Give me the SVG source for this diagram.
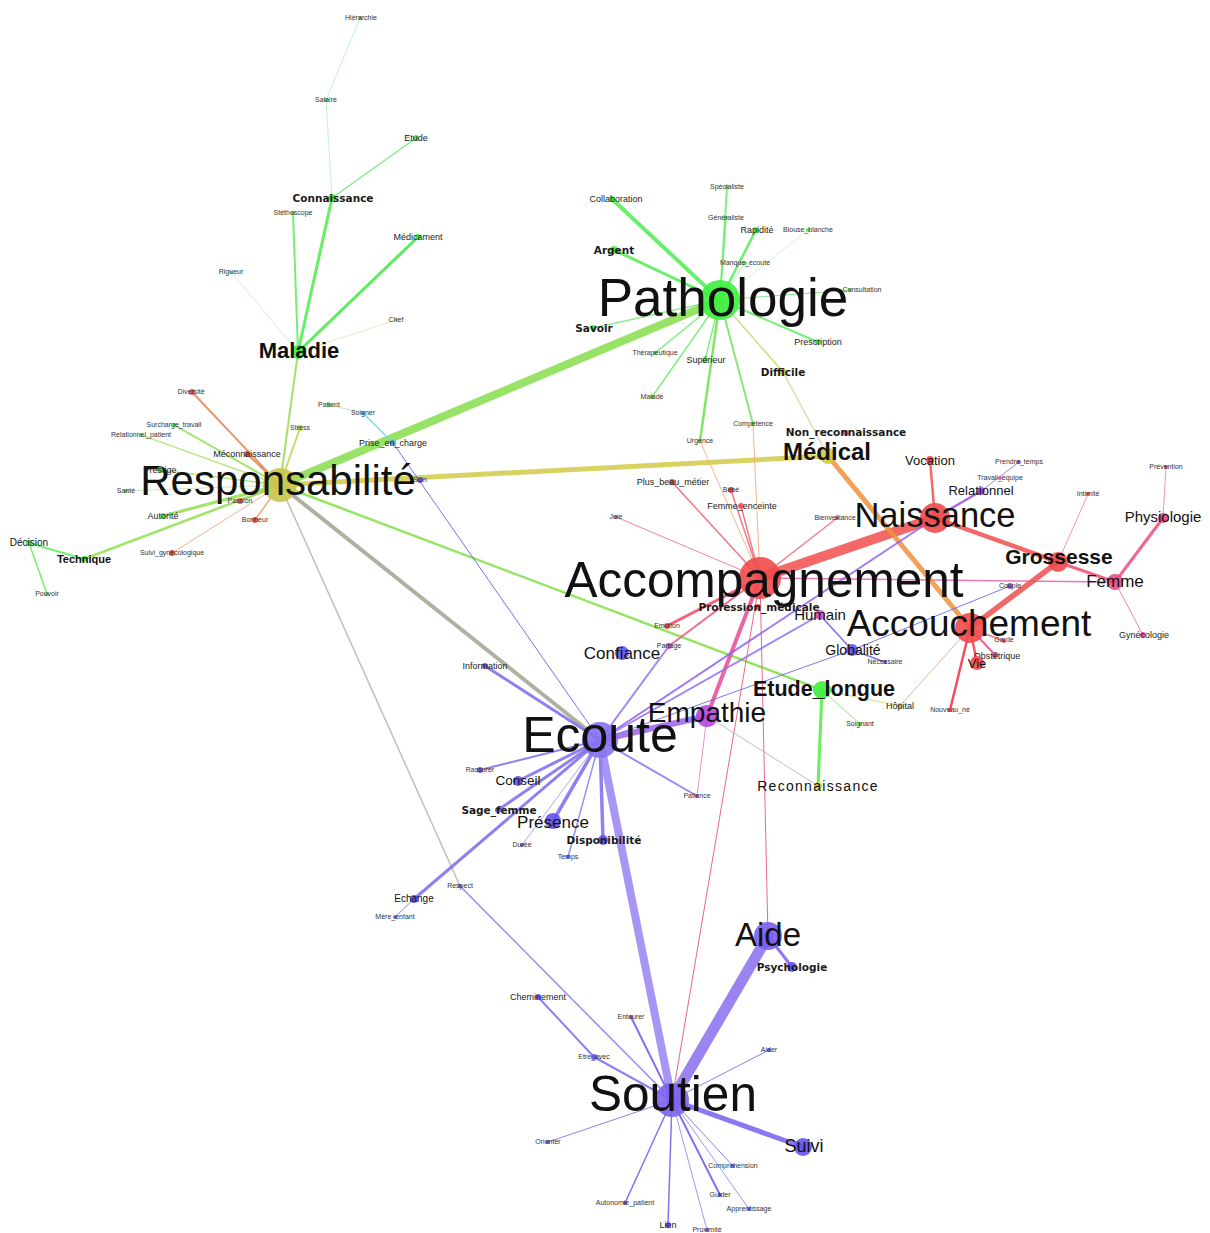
<svg xmlns="http://www.w3.org/2000/svg" width="1210" height="1233" viewBox="0 0 1210 1233">
<style>
.e{fill:none;stroke-linecap:round;stroke-opacity:.85}
text{font-family:"Liberation Sans",Arial,sans-serif;text-anchor:middle;fill:#111}
.s7{font-size:7px;fill:#333}
.s9{font-size:9px;fill:#222}
.b{font-family:"DejaVu Sans",Verdana,sans-serif;font-weight:bold;font-size:10.5px;fill:#1a1a1a}
.bb{font-weight:bold}
.g{fill:#3ef03e}.r{fill:#f24a4a}.p{fill:#6452f0}.pl{fill:#8a72f2}.m{fill:#d84cc0}.y{fill:#c9c64c}.pk{fill:#ea4a84}.c{fill:#3aa8d8}.yl{fill:#d0cc40}
circle{fill-opacity:.9}
</style>
<rect width="1210" height="1233" fill="#fff"/>
<g id="edges">
<line class="e" x1="360" y1="18" x2="326" y2="100" stroke="#b8f0c8" stroke-width="1"/>
<line class="e" x1="326" y1="100" x2="332" y2="198" stroke="#b8f0c8" stroke-width="1"/>
<line class="e" x1="416" y1="138" x2="332" y2="198" stroke="#6ee86e" stroke-width="1.5"/>
<line class="e" x1="332" y1="198" x2="298" y2="352" stroke="#4aec4a" stroke-width="3"/>
<line class="e" x1="293" y1="213" x2="298" y2="352" stroke="#5aec5a" stroke-width="2"/>
<line class="e" x1="418" y1="237" x2="298" y2="352" stroke="#3eea3e" stroke-width="3"/>
<line class="e" x1="231" y1="272" x2="298" y2="352" stroke="#c8e8f0" stroke-width="1"/>
<line class="e" x1="396" y1="320" x2="298" y2="352" stroke="#d4f0b0" stroke-width="1"/>
<line class="e" x1="298" y1="352" x2="280" y2="485" stroke="#9ad850" stroke-width="2"/>
<line class="e" x1="720" y1="300" x2="612" y2="199" stroke="#50ec50" stroke-width="4"/>
<line class="e" x1="720" y1="300" x2="614" y2="250" stroke="#50ec50" stroke-width="3"/>
<line class="e" x1="720" y1="300" x2="593" y2="328" stroke="#7aea7a" stroke-width="1.5"/>
<line class="e" x1="720" y1="300" x2="727" y2="187" stroke="#6aec6a" stroke-width="2"/>
<line class="e" x1="720" y1="300" x2="726" y2="218" stroke="#6aec6a" stroke-width="1.5"/>
<line class="e" x1="720" y1="300" x2="756" y2="230" stroke="#50ec50" stroke-width="2.5"/>
<line class="e" x1="720" y1="300" x2="808" y2="230" stroke="#c8f0c8" stroke-width="1"/>
<line class="e" x1="720" y1="300" x2="745" y2="263" stroke="#a0f0a0" stroke-width="1"/>
<line class="e" x1="720" y1="300" x2="850" y2="290" stroke="#78e078" stroke-width="1"/>
<line class="e" x1="720" y1="300" x2="818" y2="342" stroke="#5aec5a" stroke-width="2"/>
<line class="e" x1="720" y1="300" x2="655" y2="353" stroke="#6aec6a" stroke-width="1.5"/>
<line class="e" x1="720" y1="300" x2="705" y2="360" stroke="#6aec6a" stroke-width="1.5"/>
<line class="e" x1="720" y1="300" x2="652" y2="397" stroke="#6aec6a" stroke-width="1.5"/>
<line class="e" x1="720" y1="300" x2="700" y2="441" stroke="#6ae24a" stroke-width="2.5"/>
<line class="e" x1="720" y1="300" x2="753" y2="424" stroke="#78e060" stroke-width="2"/>
<line class="e" x1="720" y1="300" x2="783" y2="372" stroke="#c4d870" stroke-width="1.5"/>
<line class="e" x1="783" y1="372" x2="828" y2="456" stroke="#d8d4a0" stroke-width="1.5"/>
<line class="e" x1="720" y1="300" x2="280" y2="485" stroke="#86de4c" stroke-width="8"/>
<line class="e" x1="280" y1="485" x2="828" y2="456" stroke="#d2ca48" stroke-width="5"/>
<line class="e" x1="280" y1="485" x2="192" y2="392" stroke="#e08450" stroke-width="2"/>
<line class="e" x1="280" y1="485" x2="300" y2="428" stroke="#c8d050" stroke-width="2"/>
<line class="e" x1="280" y1="485" x2="174" y2="425" stroke="#8ee04e" stroke-width="2"/>
<line class="e" x1="280" y1="485" x2="141" y2="435" stroke="#b4e47c" stroke-width="1.5"/>
<line class="e" x1="280" y1="485" x2="247" y2="454" stroke="#e4884e" stroke-width="2"/>
<line class="e" x1="280" y1="485" x2="160" y2="470" stroke="#a4e060" stroke-width="1.5"/>
<line class="e" x1="280" y1="485" x2="126" y2="491" stroke="#c8e4b0" stroke-width="1"/>
<line class="e" x1="280" y1="485" x2="240" y2="501" stroke="#f09060" stroke-width="1.5"/>
<line class="e" x1="280" y1="485" x2="163" y2="516" stroke="#8ee04e" stroke-width="3"/>
<line class="e" x1="280" y1="485" x2="255" y2="520" stroke="#f09a60" stroke-width="1.5"/>
<line class="e" x1="280" y1="485" x2="172" y2="553" stroke="#f0a878" stroke-width="1"/>
<line class="e" x1="280" y1="485" x2="84" y2="559" stroke="#8ee04e" stroke-width="2.5"/>
<line class="e" x1="280" y1="485" x2="822" y2="690" stroke="#82e046" stroke-width="2.5"/>
<line class="e" x1="280" y1="485" x2="600" y2="740" stroke="#a2a290" stroke-width="4"/>
<line class="e" x1="280" y1="485" x2="460" y2="886" stroke="#b4b4a8" stroke-width="1.5"/>
<line class="e" x1="29" y1="543" x2="84" y2="559" stroke="#5aec5a" stroke-width="2"/>
<line class="e" x1="29" y1="543" x2="47" y2="594" stroke="#5aec5a" stroke-width="1.5"/>
<line class="e" x1="329" y1="405" x2="363" y2="413" stroke="#b0e8b0" stroke-width="1"/>
<line class="e" x1="363" y1="413" x2="393" y2="443" stroke="#70d0d8" stroke-width="1.5"/>
<line class="e" x1="393" y1="443" x2="600" y2="740" stroke="#5a5ae8" stroke-width="1"/>
<line class="e" x1="760" y1="578" x2="935" y2="518" stroke="#f24e4e" stroke-width="10"/>
<line class="e" x1="760" y1="578" x2="672" y2="482" stroke="#f06070" stroke-width="1.5"/>
<line class="e" x1="760" y1="578" x2="731" y2="490" stroke="#f06070" stroke-width="1.5"/>
<line class="e" x1="760" y1="578" x2="741" y2="506" stroke="#f06070" stroke-width="1.5"/>
<line class="e" x1="760" y1="578" x2="616" y2="517" stroke="#f07080" stroke-width="1"/>
<line class="e" x1="760" y1="578" x2="837" y2="518" stroke="#f07080" stroke-width="1.5"/>
<line class="e" x1="760" y1="578" x2="700" y2="441" stroke="#f0a878" stroke-width="1"/>
<line class="e" x1="760" y1="578" x2="753" y2="424" stroke="#f0a878" stroke-width="1"/>
<line class="e" x1="760" y1="578" x2="667" y2="626" stroke="#f04a5e" stroke-width="3"/>
<line class="e" x1="760" y1="578" x2="669" y2="646" stroke="#f05078" stroke-width="2"/>
<line class="e" x1="760" y1="578" x2="707" y2="716" stroke="#e84a94" stroke-width="4"/>
<line class="e" x1="760" y1="578" x2="768" y2="936" stroke="#e05080" stroke-width="1"/>
<line class="e" x1="760" y1="578" x2="672" y2="1100" stroke="#e05070" stroke-width="1"/>
<line class="e" x1="760" y1="578" x2="1115" y2="582" stroke="#e860b0" stroke-width="1.5"/>
<line class="e" x1="828" y1="456" x2="970" y2="628" stroke="#f0903e" stroke-width="5"/>
<line class="e" x1="935" y1="518" x2="930" y2="460" stroke="#f04e4e" stroke-width="2.5"/>
<line class="e" x1="935" y1="518" x2="981" y2="491" stroke="#a050e0" stroke-width="2.5"/>
<line class="e" x1="981" y1="491" x2="1019" y2="462" stroke="#9070e0" stroke-width="1"/>
<line class="e" x1="935" y1="518" x2="1058" y2="562" stroke="#f04e4e" stroke-width="4.5"/>
<line class="e" x1="935" y1="518" x2="600" y2="740" stroke="#9060f0" stroke-width="2"/>
<line class="e" x1="1058" y1="562" x2="1115" y2="582" stroke="#f04a70" stroke-width="3"/>
<line class="e" x1="1058" y1="562" x2="970" y2="628" stroke="#f04e4e" stroke-width="5.5"/>
<line class="e" x1="1058" y1="562" x2="1088" y2="494" stroke="#f080b0" stroke-width="1"/>
<line class="e" x1="1115" y1="582" x2="1163" y2="518" stroke="#f04a80" stroke-width="3"/>
<line class="e" x1="1163" y1="518" x2="1166" y2="467" stroke="#f080b0" stroke-width="1"/>
<line class="e" x1="1115" y1="582" x2="1143" y2="635" stroke="#f070a0" stroke-width="1"/>
<line class="e" x1="1010" y1="586" x2="852" y2="650" stroke="#6060f0" stroke-width="1"/>
<line class="e" x1="970" y1="628" x2="1004" y2="641" stroke="#f06070" stroke-width="1.5"/>
<line class="e" x1="970" y1="628" x2="995" y2="655" stroke="#e05080" stroke-width="2"/>
<line class="e" x1="970" y1="628" x2="977" y2="663" stroke="#f04050" stroke-width="2.5"/>
<line class="e" x1="970" y1="628" x2="950" y2="710" stroke="#f03040" stroke-width="2.5"/>
<line class="e" x1="970" y1="628" x2="900" y2="706" stroke="#d4b488" stroke-width="1"/>
<line class="e" x1="820" y1="615" x2="852" y2="650" stroke="#7050e0" stroke-width="1.5"/>
<line class="e" x1="820" y1="615" x2="600" y2="740" stroke="#9070f0" stroke-width="2"/>
<line class="e" x1="852" y1="650" x2="885" y2="662" stroke="#6060f0" stroke-width="1.5"/>
<line class="e" x1="852" y1="650" x2="600" y2="740" stroke="#6060f0" stroke-width="1"/>
<line class="e" x1="822" y1="690" x2="818" y2="786" stroke="#4eec3e" stroke-width="3"/>
<line class="e" x1="822" y1="690" x2="860" y2="724" stroke="#70ee70" stroke-width="1"/>
<line class="e" x1="822" y1="690" x2="900" y2="706" stroke="#d4d470" stroke-width="1"/>
<line class="e" x1="707" y1="716" x2="818" y2="786" stroke="#b4b4a8" stroke-width="1"/>
<line class="e" x1="707" y1="716" x2="697" y2="796" stroke="#e080c0" stroke-width="1"/>
<line class="e" x1="600" y1="740" x2="707" y2="716" stroke="#9a62f0" stroke-width="6"/>
<line class="e" x1="600" y1="740" x2="669" y2="646" stroke="#9070f0" stroke-width="2"/>
<line class="e" x1="600" y1="740" x2="485" y2="666" stroke="#7a6af0" stroke-width="3"/>
<line class="e" x1="600" y1="740" x2="480" y2="770" stroke="#7a6af0" stroke-width="2"/>
<line class="e" x1="600" y1="740" x2="518" y2="781" stroke="#7a6af0" stroke-width="3"/>
<line class="e" x1="600" y1="740" x2="498" y2="810" stroke="#7a6af0" stroke-width="3"/>
<line class="e" x1="600" y1="740" x2="553" y2="821" stroke="#7a6af0" stroke-width="3.5"/>
<line class="e" x1="600" y1="740" x2="603" y2="840" stroke="#7a6af0" stroke-width="3.5"/>
<line class="e" x1="600" y1="740" x2="522" y2="845" stroke="#9a9af0" stroke-width="1"/>
<line class="e" x1="600" y1="740" x2="568" y2="857" stroke="#8080f0" stroke-width="1.5"/>
<line class="e" x1="600" y1="740" x2="414" y2="899" stroke="#7a6af0" stroke-width="3"/>
<line class="e" x1="414" y1="899" x2="395" y2="917" stroke="#7070f0" stroke-width="1"/>
<line class="e" x1="600" y1="740" x2="697" y2="796" stroke="#9070f0" stroke-width="2"/>
<line class="e" x1="600" y1="740" x2="672" y2="1100" stroke="#9a82f2" stroke-width="8"/>
<line class="e" x1="768" y1="936" x2="672" y2="1100" stroke="#8a6ef0" stroke-width="11"/>
<line class="e" x1="768" y1="936" x2="792" y2="967" stroke="#7a60f0" stroke-width="3"/>
<line class="e" x1="460" y1="886" x2="672" y2="1100" stroke="#7a7af0" stroke-width="1.5"/>
<line class="e" x1="538" y1="997" x2="594" y2="1057" stroke="#7a6af0" stroke-width="2"/>
<line class="e" x1="594" y1="1057" x2="672" y2="1100" stroke="#7a6af0" stroke-width="2"/>
<line class="e" x1="631" y1="1017" x2="672" y2="1100" stroke="#6a5af0" stroke-width="2"/>
<line class="e" x1="769" y1="1050" x2="672" y2="1100" stroke="#7a6af0" stroke-width="1"/>
<line class="e" x1="548" y1="1142" x2="672" y2="1100" stroke="#7a6af0" stroke-width="1"/>
<line class="e" x1="803" y1="1147" x2="672" y2="1100" stroke="#7a60f0" stroke-width="5"/>
<line class="e" x1="733" y1="1166" x2="672" y2="1100" stroke="#7a6af0" stroke-width="1"/>
<line class="e" x1="720" y1="1195" x2="672" y2="1100" stroke="#6a5af0" stroke-width="2"/>
<line class="e" x1="749" y1="1209" x2="672" y2="1100" stroke="#8a8af0" stroke-width="1"/>
<line class="e" x1="625" y1="1203" x2="672" y2="1100" stroke="#6a5af0" stroke-width="1.5"/>
<line class="e" x1="668" y1="1225" x2="672" y2="1100" stroke="#6a5af0" stroke-width="1.5"/>
<line class="e" x1="707" y1="1230" x2="672" y2="1100" stroke="#8a8af0" stroke-width="1"/>
</g>
<g id="nodes">
<g id="n-hierarchie"><circle class="g" cx="360" cy="18" r="2"/><text class="s7" x="361" y="20">Hiérarchie</text></g>
<g id="n-salaire"><circle class="g" cx="326" cy="100" r="2"/><text class="s7" x="326" y="102">Salaire</text></g>
<g id="n-etude"><circle class="g" cx="416" cy="138" r="3"/><text class="s9" x="416" y="141">Etude</text></g>
<g id="n-connaissance"><circle class="g" cx="332" cy="198" r="4"/><text class="b" x="333" y="202">Connaissance</text></g>
<g id="n-stethoscope"><circle class="g" cx="293" cy="213" r="2"/><text class="s7" x="293" y="215">Stéthoscope</text></g>
<g id="n-medicament"><circle class="g" cx="418" cy="237" r="3"/><text class="s9" x="418" y="240">Médicament</text></g>
<g id="n-rigueur"><circle class="g" cx="231" cy="272" r="1.5"/><text class="s7" x="231" y="274">Rigueur</text></g>
<g id="n-chef"><circle class="g" cx="396" cy="320" r="1.5"/><text class="s7" x="396" y="322">Chef</text></g>
<g id="n-maladie"><circle class="g" cx="298" cy="352" r="7"/><text class="bb" x="299" y="358" font-size="22">Maladie</text></g>
<g id="n-pathologie"><circle class="g" cx="720" cy="300" r="20"/><text x="723" y="316" font-size="53">Pathologie</text></g>
<g id="n-collaboration"><circle class="g" cx="612" cy="199" r="3"/><text class="s9" x="616" y="202">Collaboration</text></g>
<g id="n-specialiste"><circle class="g" cx="727" cy="187" r="2"/><text class="s7" x="727" y="189">Spécialiste</text></g>
<g id="n-generaliste"><circle class="g" cx="726" cy="218" r="2"/><text class="s7" x="726" y="220">Généraliste</text></g>
<g id="n-rapidite"><circle class="g" cx="756" cy="230" r="3"/><text class="s9" x="757" y="233" font-size="8.5">Rapidité</text></g>
<g id="n-blouse"><circle class="g" cx="808" cy="230" r="2"/><text class="s7" x="808" y="232">Blouse_blanche</text></g>
<g id="n-argent"><circle class="g" cx="614" cy="250" r="4"/><text class="b" x="614" y="254">Argent</text></g>
<g id="n-manque"><circle class="g" cx="745" cy="263" r="2"/><text class="s7" x="745" y="265">Manque_écoute</text></g>
<g id="n-consultation"><circle class="g" cx="850" cy="290" r="2"/><text class="s7" x="862" y="292">Consultation</text></g>
<g id="n-savoir"><circle class="g" cx="593" cy="328" r="3"/><text class="b" x="594" y="332">Savoir</text></g>
<g id="n-prescription"><circle class="g" cx="818" cy="342" r="3"/><text class="s9" x="818" y="345">Prescription</text></g>
<g id="n-therapeutique"><circle class="g" cx="655" cy="353" r="2"/><text class="s7" x="655" y="355">Thérapeutique</text></g>
<g id="n-superieur"><circle class="g" cx="705" cy="360" r="3"/><text class="s9" x="706" y="363">Supérieur</text></g>
<g id="n-difficile"><circle class="yl" cx="783" cy="372" r="4"/><text class="b" x="783" y="376">Difficile</text></g>
<g id="n-malade"><circle class="g" cx="652" cy="397" r="2"/><text class="s7" x="652" y="399">Malade</text></g>
<g id="n-competence"><circle class="g" cx="753" cy="424" r="2"/><text class="s7" x="753" y="426">Compétence</text></g>
<g id="n-urgence"><circle class="g" cx="700" cy="441" r="2"/><text class="s7" x="700" y="443">Urgence</text></g>
<g id="n-responsabilite"><circle class="y" cx="280" cy="485" r="17"/><text x="278" y="495" font-size="42">Responsabilité</text></g>
<g id="n-diversite"><circle class="r" cx="192" cy="392" r="3"/><text class="s7" x="191" y="394">Diversité</text></g>
<g id="n-patient"><circle class="g" cx="329" cy="405" r="2"/><text class="s7" x="329" y="407">Patient</text></g>
<g id="n-soigner"><circle class="c" cx="363" cy="413" r="2"/><text class="s7" x="363" y="415">Soigner</text></g>
<g id="n-surcharge"><circle class="g" cx="174" cy="425" r="2"/><text class="s7" x="174" y="427">Surcharge_travail</text></g>
<g id="n-relpatient"><circle class="g" cx="141" cy="435" r="1.5"/><text class="s7" x="141" y="437">Relationnel_patient</text></g>
<g id="n-stress"><circle class="yl" cx="300" cy="428" r="3"/><text class="s7" x="300" y="430">Stress</text></g>
<g id="n-prise"><circle class="c" cx="393" cy="443" r="3"/><text class="s9" x="393" y="446">Prise_en_charge</text></g>
<g id="n-meconnaissance"><circle class="r" cx="247" cy="454" r="3"/><text class="s9" x="247" y="457">Méconnaissance</text></g>
<g id="n-prestige"><circle class="g" cx="160" cy="470" r="3"/><text class="s9" x="160" y="473">Prestige</text></g>
<g id="n-soin"><circle class="p" cx="420" cy="480" r="3"/><text class="s7" x="420" y="482">Soin</text></g>
<g id="n-sante"><circle class="g" cx="126" cy="491" r="2"/><text class="s7" x="126" y="493">Santé</text></g>
<g id="n-passion"><circle class="r" cx="240" cy="501" r="3"/><text class="s7" x="240" y="503">Passion</text></g>
<g id="n-autorite"><circle class="g" cx="163" cy="516" r="3"/><text class="s9" x="163" y="519">Autorité</text></g>
<g id="n-bonheur"><circle class="r" cx="255" cy="520" r="3"/><text class="s7" x="255" y="522">Bonheur</text></g>
<g id="n-suivigyn"><circle class="r" cx="172" cy="553" r="3"/><text class="s7" x="172" y="555">Suivi_gynécologique</text></g>
<g id="n-decision"><circle class="g" cx="29" cy="543" r="3"/><text x="29" y="546" font-size="10" fill="#222">Décision</text></g>
<g id="n-technique"><circle class="g" cx="84" cy="559" r="3"/><text class="bb" x="84" y="563" font-size="11">Technique</text></g>
<g id="n-pouvoir"><circle class="g" cx="47" cy="594" r="2"/><text class="s7" x="47" y="596">Pouvoir</text></g>
<g id="n-medical"><circle class="yl" cx="828" cy="456" r="8"/><text class="bb" x="827" y="460" font-size="24">Médical</text></g>
<g id="n-nonreco"><circle class="r" cx="846" cy="433" r="3"/><text class="b" x="846" y="436">Non_reconnaissance</text></g>
<g id="n-plusbeau"><circle class="r" cx="672" cy="482" r="3"/><text class="s9" x="673" y="485">Plus_beau_métier</text></g>
<g id="n-bebe"><circle class="r" cx="731" cy="490" r="3"/><text class="s7" x="731" y="492">Bébé</text></g>
<g id="n-femmeenc"><circle class="r" cx="741" cy="506" r="3"/><text class="s9" x="742" y="509">Femme_enceinte</text></g>
<g id="n-joie"><circle class="r" cx="616" cy="517" r="2"/><text class="s7" x="616" y="519">Joie</text></g>
<g id="n-bienveillance"><circle class="r" cx="837" cy="518" r="2"/><text class="s7" x="835" y="520">Bienveillance</text></g>
<g id="n-accompagnement"><circle class="r" cx="760" cy="578" r="21"/><text x="764" y="597" font-size="49.5">Accompagnement</text></g>
<g id="n-profmed"><circle class="r" cx="758" cy="607" r="3"/><text class="b" x="759" y="611">Profession_médicale</text></g>
<g id="n-emotion"><circle class="r" cx="667" cy="626" r="3"/><text class="s7" x="667" y="628">Emotion</text></g>
<g id="n-partage"><circle class="m" cx="669" cy="646" r="3"/><text class="s7" x="669" y="648">Partage</text></g>
<g id="n-humain"><circle class="m" cx="820" cy="615" r="5"/><text x="820" y="620" font-size="15">Humain</text></g>
<g id="n-confiance"><circle class="p" cx="622" cy="653" r="7"/><text x="622" y="659" font-size="17">Confiance</text></g>
<g id="n-globalite"><circle class="p" cx="852" cy="650" r="6"/><text x="853" y="655" font-size="14">Globalité</text></g>
<g id="n-necessaire"><circle class="p" cx="885" cy="662" r="2"/><text class="s7" x="885" y="664">Nécessaire</text></g>
<g id="n-etudelongue"><circle class="g" cx="822" cy="690" r="9"/><text class="bb" x="824" y="696" font-size="21.5">Etude_longue</text></g>
<g id="n-hopital"><circle class="yl" cx="900" cy="706" r="3"/><text class="s9" x="900" y="709">Hôpital</text></g>
<g id="n-soignant"><circle class="g" cx="860" cy="724" r="2"/><text class="s7" x="860" y="726">Soignant</text></g>
<g id="n-reconnaissance"><circle class="yl" cx="818" cy="786" r="4"/><text x="818" y="791" font-size="14" letter-spacing="1.3" font-family="DejaVu Sans, sans-serif">Reconnaissance</text></g>
<g id="n-empathie"><circle class="m" cx="707" cy="716" r="11" style="fill:#b846e0"/><text x="707" y="722" font-size="28">Empathie</text></g>
<g id="n-patience"><circle class="m" cx="697" cy="796" r="2"/><text class="s7" x="697" y="798">Patience</text></g>
<g id="n-naissance"><circle class="r" cx="935" cy="518" r="15"/><text x="935" y="527" font-size="34.5">Naissance</text></g>
<g id="n-vocation"><circle class="r" cx="930" cy="460" r="4"/><text x="930" y="465" font-size="13">Vocation</text></g>
<g id="n-prendre"><circle class="p" cx="1019" cy="462" r="2"/><text class="s7" x="1019" y="464">Prendre_temps</text></g>
<g id="n-travail"><circle class="m" cx="1000" cy="478" r="2"/><text class="s7" x="1000" y="480">Travail_équipe</text></g>
<g id="n-relationnel"><circle class="p" cx="981" cy="491" r="4" style="fill:#a050e0"/><text x="981" y="495" font-size="13">Relationnel</text></g>
<g id="n-intimite"><circle class="pk" cx="1088" cy="494" r="2"/><text class="s7" x="1088" y="496">Intimité</text></g>
<g id="n-prevention"><circle class="pk" cx="1166" cy="467" r="2"/><text class="s7" x="1166" y="469">Prévention</text></g>
<g id="n-physiologie"><circle class="pk" cx="1163" cy="518" r="5"/><text x="1163" y="522" font-size="15">Physiologie</text></g>
<g id="n-grossesse"><circle class="r" cx="1058" cy="562" r="10"/><text class="bb" x="1059" y="564" font-size="21">Grossesse</text></g>
<g id="n-femme"><circle class="pk" cx="1115" cy="582" r="8"/><text x="1115" y="587" font-size="17">Femme</text></g>
<g id="n-couple"><circle class="p" cx="1010" cy="586" r="3"/><text class="s7" x="1010" y="588">Couple</text></g>
<g id="n-gynecologie"><circle class="pk" cx="1143" cy="635" r="3"/><text class="s9" x="1144" y="638">Gynécologie</text></g>
<g id="n-accouchement"><circle class="r" cx="970" cy="628" r="15"/><text x="969" y="636" font-size="37">Accouchement</text></g>
<g id="n-garde"><circle class="r" cx="1004" cy="641" r="2"/><text class="s7" x="1004" y="642">Garde</text></g>
<g id="n-obstetrique"><circle class="pk" cx="995" cy="655" r="3"/><text class="s9" x="997" y="659">Obstétrique</text></g>
<g id="n-vie"><circle class="r" cx="977" cy="663" r="7"/><text x="977" y="668" font-size="13">Vie</text></g>
<g id="n-nouveaune"><circle class="r" cx="950" cy="710" r="2"/><text class="s7" x="950" y="712">Nouveau_né</text></g>
<g id="n-ecoute"><circle class="pl" cx="600" cy="740" r="18"/><text x="600" y="752" font-size="50">Ecoute</text></g>
<g id="n-information"><circle class="p" cx="485" cy="666" r="3"/><text class="s9" x="485" y="669" font-size="8">Information</text></g>
<g id="n-rassurer"><circle class="p" cx="480" cy="770" r="3"/><text class="s7" x="480" y="772">Rassurer</text></g>
<g id="n-conseil"><circle class="p" cx="518" cy="781" r="5"/><text x="518" y="785" font-size="13.5">Conseil</text></g>
<g id="n-sagefemme"><circle class="p" cx="498" cy="810" r="3"/><text class="b" x="499" y="814">Sage_femme</text></g>
<g id="n-presence"><circle class="p" cx="553" cy="821" r="8"/><text x="553" y="828" font-size="17">Présence</text></g>
<g id="n-disponibilite"><circle class="p" cx="603" cy="840" r="5"/><text class="b" x="604" y="844">Disponibilité</text></g>
<g id="n-duree"><circle class="p" cx="522" cy="845" r="2"/><text class="s7" x="522" y="847">Durée</text></g>
<g id="n-temps"><circle class="p" cx="568" cy="857" r="2"/><text class="s7" x="568" y="859">Temps</text></g>
<g id="n-echange"><circle class="p" cx="414" cy="899" r="4"/><text x="414" y="902" font-size="10" fill="#222">Echange</text></g>
<g id="n-mereenfant"><circle class="p" cx="395" cy="917" r="2"/><text class="s7" x="395" y="919">Mère_enfant</text></g>
<g id="n-respect"><circle class="p" cx="460" cy="886" r="2"/><text class="s7" x="460" y="888">Respect</text></g>
<g id="n-aide"><circle class="pl" cx="768" cy="936" r="14" style="fill:#7a5cf0"/><text x="768" y="946" font-size="33">Aide</text></g>
<g id="n-psychologie"><circle class="p" cx="792" cy="967" r="5"/><text class="b" x="792" y="971">Psychologie</text></g>
<g id="n-soutien"><circle class="pl" cx="672" cy="1100" r="17" style="fill:#8062f0"/><text x="673" y="1111" font-size="49.5">Soutien</text></g>
<g id="n-cheminement"><circle class="p" cx="538" cy="997" r="3"/><text class="s9" x="538" y="1000">Cheminement</text></g>
<g id="n-entourer"><circle class="p" cx="631" cy="1017" r="2"/><text class="s7" x="631" y="1019">Entourer</text></g>
<g id="n-etreavec"><circle class="p" cx="594" cy="1057" r="3"/><text class="s7" x="594" y="1059">Etre_avec</text></g>
<g id="n-aider"><circle class="p" cx="769" cy="1050" r="2"/><text class="s7" x="769" y="1052">Aider</text></g>
<g id="n-orienter"><circle class="p" cx="548" cy="1142" r="2"/><text class="s7" x="548" y="1144">Orienter</text></g>
<g id="n-suivi"><circle class="p" cx="803" cy="1147" r="9"/><text x="804" y="1152" font-size="18">Suivi</text></g>
<g id="n-comprehension"><circle class="p" cx="733" cy="1166" r="2"/><text class="s7" x="733" y="1168">Compréhension</text></g>
<g id="n-guider"><circle class="p" cx="720" cy="1195" r="2"/><text class="s7" x="720" y="1197">Guider</text></g>
<g id="n-apprentissage"><circle class="p" cx="749" cy="1209" r="2"/><text class="s7" x="749" y="1211">Apprentissage</text></g>
<g id="n-autonomie"><circle class="p" cx="625" cy="1203" r="2"/><text class="s7" x="625" y="1205">Autonomie_patient</text></g>
<g id="n-lien"><circle class="p" cx="668" cy="1225" r="3"/><text class="s9" x="668" y="1228">Lien</text></g>
<g id="n-proximite"><circle class="p" cx="707" cy="1230" r="2"/><text class="s7" x="707" y="1232">Proximité</text></g>
</g>
</svg>
